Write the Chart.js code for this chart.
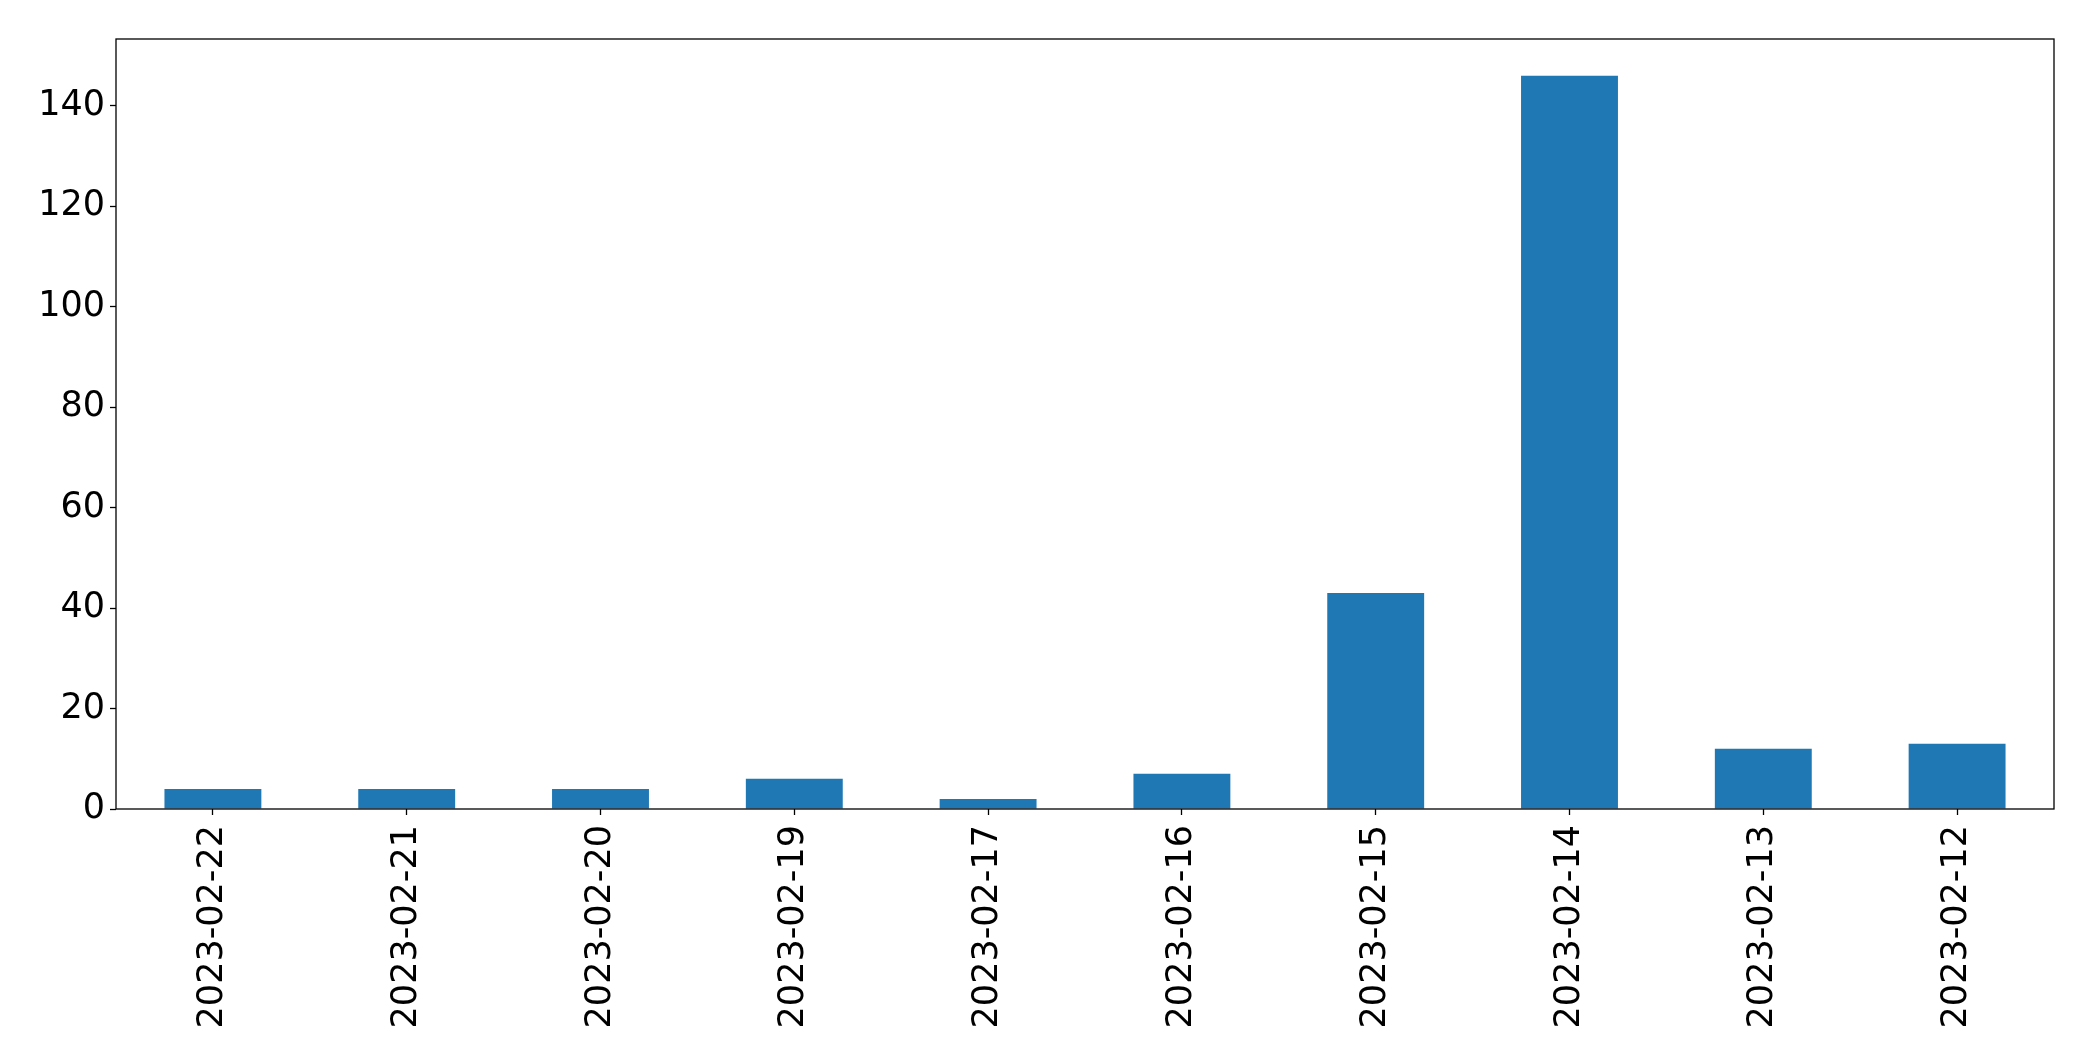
<!DOCTYPE html>
<html>
<head>
<meta charset="utf-8">
<script src="https://cdn.jsdelivr.net/npm/chart.js@4/dist/chart.umd.min.js"></script>
<style>
  html, body { margin: 0; padding: 0; background: #fff; }
  #wrap { width: 2093px; height: 1061px; }
</style>
</head>
<body>
<div id="wrap"><canvas id="myChart" width="2093" height="1061"></canvas></div>
<script>
const labels = ["2023-02-22", "2023-02-21", "2023-02-20", "2023-02-19", "2023-02-17",
                "2023-02-16", "2023-02-15", "2023-02-14", "2023-02-13", "2023-02-12"];
const counts = [4, 4, 4, 6, 2, 7, 43, 146, 12, 13];
const yTicks = [0, 20, 40, 60, 80, 100, 120, 140];

// box around the plot area, like matplotlib spines
const frame = {
    id: 'frame',
    afterDraw(chart) {
        const { ctx, chartArea } = chart;
        ctx.save();
        ctx.strokeStyle = '#000';
        ctx.lineWidth = 1.3;
        ctx.strokeRect(chartArea.left, chartArea.top,
            chartArea.right - chartArea.left, chartArea.bottom - chartArea.top);
        ctx.restore();
    }
};

const ctx = document.getElementById("myChart").getContext("2d");
new Chart(ctx, {
    type: "bar",
    data: {
        labels: labels,
        datasets: [{
            data: counts,
            backgroundColor: "#1f77b4",
            borderWidth: 0,
            categoryPercentage: 1.0,
            barPercentage: 0.5,
        }],
    },
    options: {
        responsive: false,
        animation: false,
        layout: { padding: { top: 39, right: 39, left: 0, bottom: 0 } },
        plugins: {
            legend: { display: false },
            tooltip: { enabled: false },
        },
        scales: {
            x: {
                offset: true,
                grid: {
                    display: true,
                    offset: false,
                    drawOnChartArea: false,
                    drawTicks: true,
                    tickLength: 6,
                    tickColor: '#000',
                    tickWidth: 1.3,
                },
                border: { display: false },
                ticks: {
                    color: '#000',
                    font: { family: 'DejaVu Sans', size: 35 },
                    minRotation: 90,
                    maxRotation: 90,
                    padding: 10,
                    autoSkip: false,
                },
                afterFit: (axis) => { axis.height = 252; },
            },
            y: {
                min: 0,
                max: 153.3,
                grid: {
                    display: true,
                    drawOnChartArea: false,
                    drawTicks: true,
                    tickLength: 6,
                    tickColor: '#000',
                    tickWidth: 1.3,
                },
                border: { display: false },
                ticks: {
                    color: '#000',
                    font: { family: 'DejaVu Sans', size: 35 },
                    padding: 5,
                },
                afterBuildTicks: (axis) => { axis.ticks = yTicks.map(v => ({ value: v })); },
                afterFit: (axis) => { axis.width = 116; },
            },
        },
    },
    plugins: [frame],
});
</script>
</body>
</html>
